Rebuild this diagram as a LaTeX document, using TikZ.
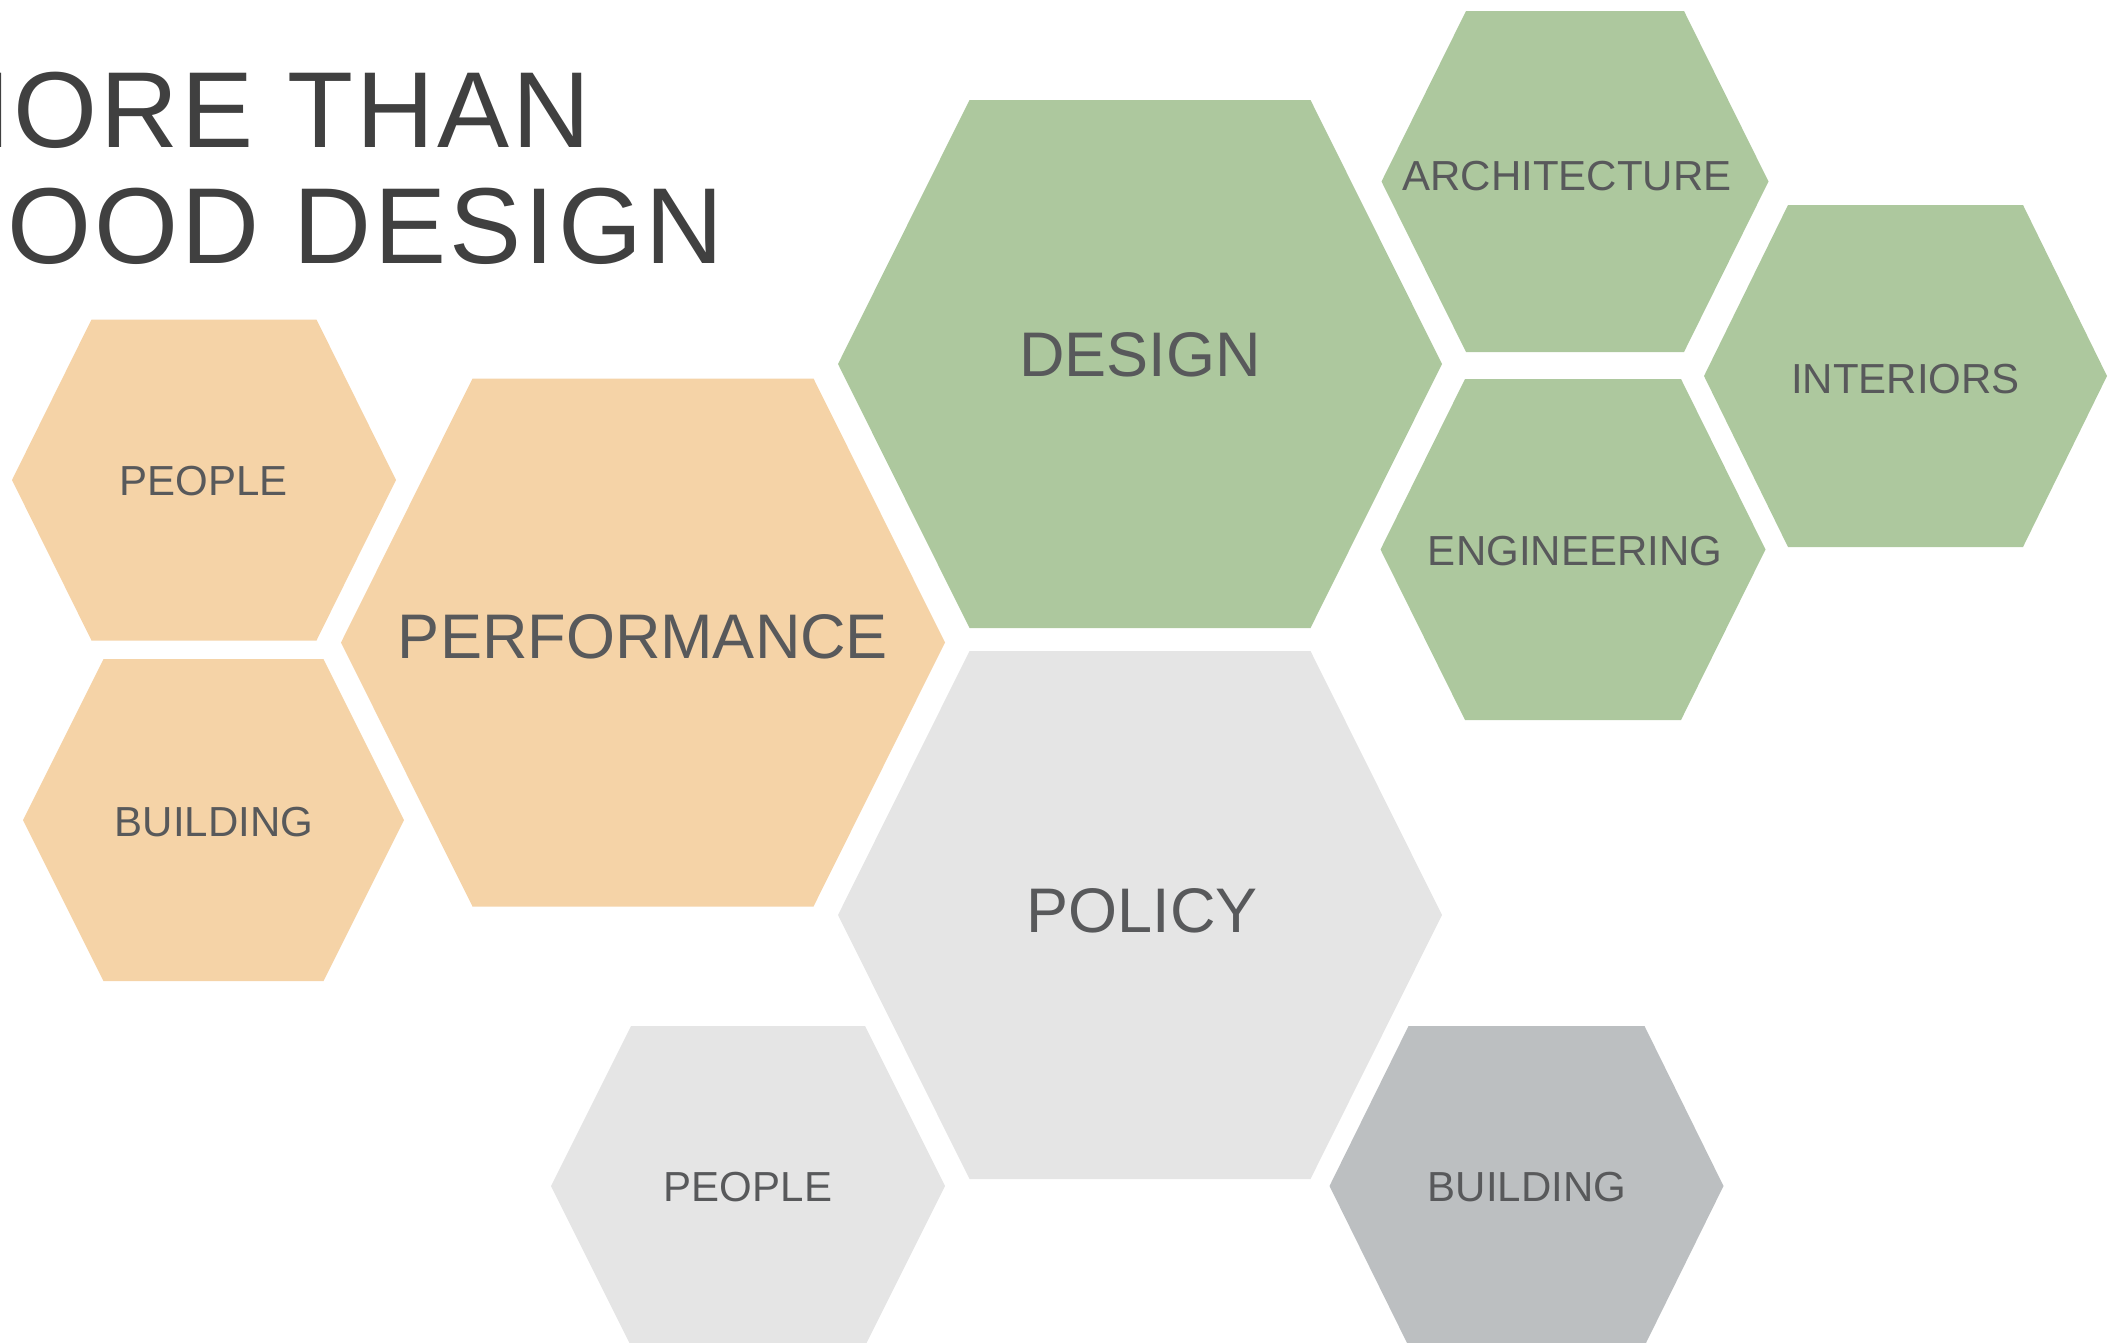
\documentclass[tikz,border=0pt]{standalone}
\usepackage{fontspec}
\setmainfont{Liberation Sans}
\definecolor{hexgreen}{HTML}{ADC89E}
\definecolor{hexorange}{HTML}{F5D3A7}
\definecolor{hexlight}{HTML}{E5E5E5}
\definecolor{hexdark}{HTML}{BCBFC1}
\definecolor{labelgrey}{HTML}{58595B}
\definecolor{titlegrey}{HTML}{404040}
% flat-topped hexagon: centre x, centre y, half width, half height, half top edge, colour
\newcommand\hexcell[6]{%
  \fill[#6] (#1-#3,#2) -- (#1-#5,#2-#4) -- (#1+#5,#2-#4) -- (#1+#3,#2)
            -- (#1+#5,#2+#4) -- (#1-#5,#2+#4) -- cycle;}
\begin{document}
\begin{tikzpicture}[x=1pt,y=-1pt,
  titletext/.style={anchor=base west,inner sep=0pt,text=titlegrey,
    font=\fontsize{108}{108}\selectfont\addfontfeature{LetterSpace=3}},
  labelbig/.style={anchor=base,inner sep=0pt,text=labelgrey,font=\fontsize{63}{63}\selectfont},
  labelsmall/.style={anchor=base,inner sep=0pt,text=labelgrey,font=\fontsize{42}{42}\selectfont}]
\useasboundingbox (0,0) rectangle (2113,1342);
\clip (0,0) rectangle (2113,1342);

% title, running off the left edge
\node[titletext] (title1) at (-80,147.7) {MORE THAN};
\node[titletext] (title2) at (-80,263) {GOOD DESIGN};

% performance cluster
\hexcell{204}{480}{192}{160.5}{112.5}{hexorange}
\hexcell{213.5}{820}{190.5}{161}{110}{hexorange}
\hexcell{643}{642.5}{302}{264}{170.5}{hexorange}

% design cluster
\hexcell{1140}{364}{302}{264}{170.5}{hexgreen}
\hexcell{1575}{181.5}{193.5}{170.5}{109}{hexgreen}
\hexcell{1905.5}{376}{201.5}{171}{117.5}{hexgreen}
\hexcell{1573}{549.5}{192.5}{170.5}{108}{hexgreen}

% policy cluster
\hexcell{1140}{915}{302}{264}{170.5}{hexlight}
\hexcell{748}{1186}{197}{160}{117}{hexlight}
\hexcell{1526.5}{1186}{197}{160}{118}{hexdark}

% labels
\node[labelbig] (design) at (1140,376) {DESIGN};
\node[labelsmall] (arch) at (1567,190.6) {ARCHITECTURE};
\node[labelsmall] (interiors) at (1905.5,393) {INTERIORS};
\node[labelsmall] (eng) at (1575,565) {ENGINEERING};
\node[labelbig] (perf) at (643,658.5) {PERFORMANCE};
\node[labelsmall] (peopleA) at (203.5,495.5) {PEOPLE};
\node[labelsmall] (buildA) at (214,836) {BUILDING};
\node[labelbig] (policy) at (1142,932) {POLICY};
\node[labelsmall] (peopleB) at (748,1201.7) {PEOPLE};
\node[labelsmall] (buildB) at (1527,1201.7) {BUILDING};
\end{tikzpicture}
\end{document}
